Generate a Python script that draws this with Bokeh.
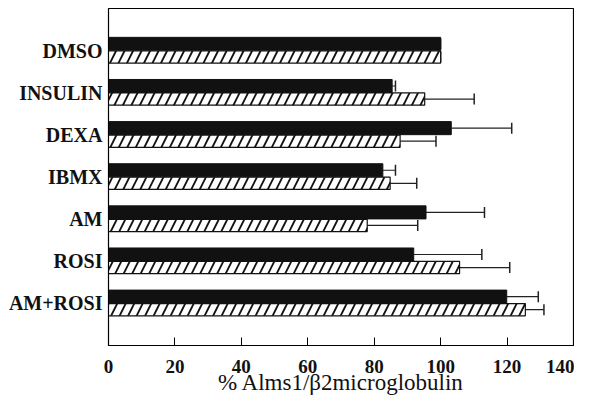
from bokeh.plotting import figure
from bokeh.models import Range1d, FixedTicker, ColumnDataSource, Whisker, TeeHead
from bokeh.embed import file_html
from bokeh.resources import INLINE

categories = ["DMSO", "INSULIN", "DEXA", "IBMX", "AM", "ROSI", "AM+ROSI"]
solid_vals = [100, 85.4, 103.2, 82.6, 95.6, 91.9, 119.9]
solid_err = [0, 1.0, 18.2, 3.8, 17.6, 20.5, 9.5]
hatch_vals = [100, 95.2, 87.8, 84.8, 77.9, 105.7, 125.5]
hatch_err = [0, 14.9, 10.8, 8.0, 15.2, 15.1, 5.6]
x_ticks = [0, 20, 40, 60, 80, 100, 120, 140]
x_title = "% Alms1/β2microglobulin"

pos = list(range(1, len(categories) + 1))
FONT = "Liberation Serif, Times New Roman, Times, serif"

p = figure(width=574, height=399, output_backend="svg", toolbar_location=None,
           x_range=Range1d(0, 140), y_range=Range1d(8, 0),
           min_border_left=108, min_border_right=1, min_border_top=8, min_border_bottom=54)
p.grid.visible = False
p.background_fill_color = "white"
p.border_fill_color = "white"
p.outline_line_color = "black"
p.outline_line_width = 1.2

s_src = ColumnDataSource(dict(y=[v - 0.16 for v in pos], right=solid_vals,
                              upper=[a + b for a, b in zip(solid_vals, solid_err)]))
h_src = ColumnDataSource(dict(y=[v + 0.15 for v in pos], right=hatch_vals,
                              upper=[a + b for a, b in zip(hatch_vals, hatch_err)]))

p.hbar(y="y", left=0, right="right", height=0.31, source=s_src,
       fill_color="#111111", line_color="#111111", line_width=1)
p.hbar(y="y", left=0, right="right", height=0.29, source=h_src,
       fill_color="white", line_color="#111111", line_width=1.2,
       hatch_pattern="/", hatch_color="#111111", hatch_scale=17, hatch_weight=1.8)

for src in (s_src, h_src):
    w = Whisker(source=src, base="y", lower="right", upper="upper", dimension="width",
                line_color="#222222", line_width=1.2,
                upper_head=TeeHead(size=11, line_color="#222222", line_width=1.5),
                lower_head=None)
    p.add_layout(w)

p.xaxis.ticker = FixedTicker(ticks=x_ticks)
p.xaxis.major_tick_in = 8
p.xaxis.major_tick_out = 0
p.xaxis.minor_tick_line_color = None
p.xaxis.major_label_text_font = FONT
p.xaxis.major_label_text_font_style = "bold"
p.xaxis.major_label_text_font_size = "19px"
p.xaxis.major_label_text_color = "#111111"
p.xaxis.major_label_standoff = 14
p.xaxis.axis_line_color = "black"
p.xaxis.axis_label = x_title
p.xaxis.axis_label_text_font = FONT
p.xaxis.axis_label_text_font_style = "normal"
p.xaxis.axis_label_text_font_size = "23px"
p.xaxis.axis_label_text_color = "#111111"
p.xaxis.axis_label_standoff = -6

p.yaxis.ticker = FixedTicker(ticks=pos)
p.yaxis.major_label_overrides = {v: c for v, c in zip(pos, categories)}
p.yaxis.major_tick_in = 0
p.yaxis.major_tick_out = 0
p.yaxis.minor_tick_line_color = None
p.yaxis.major_label_text_font = FONT
p.yaxis.major_label_text_font_style = "bold"
p.yaxis.major_label_text_font_size = "20px"
p.yaxis.major_label_text_color = "#111111"
p.yaxis.major_label_standoff = 6
p.yaxis.axis_line_color = "black"

open("out.html", "w").write(file_html(p, INLINE))
